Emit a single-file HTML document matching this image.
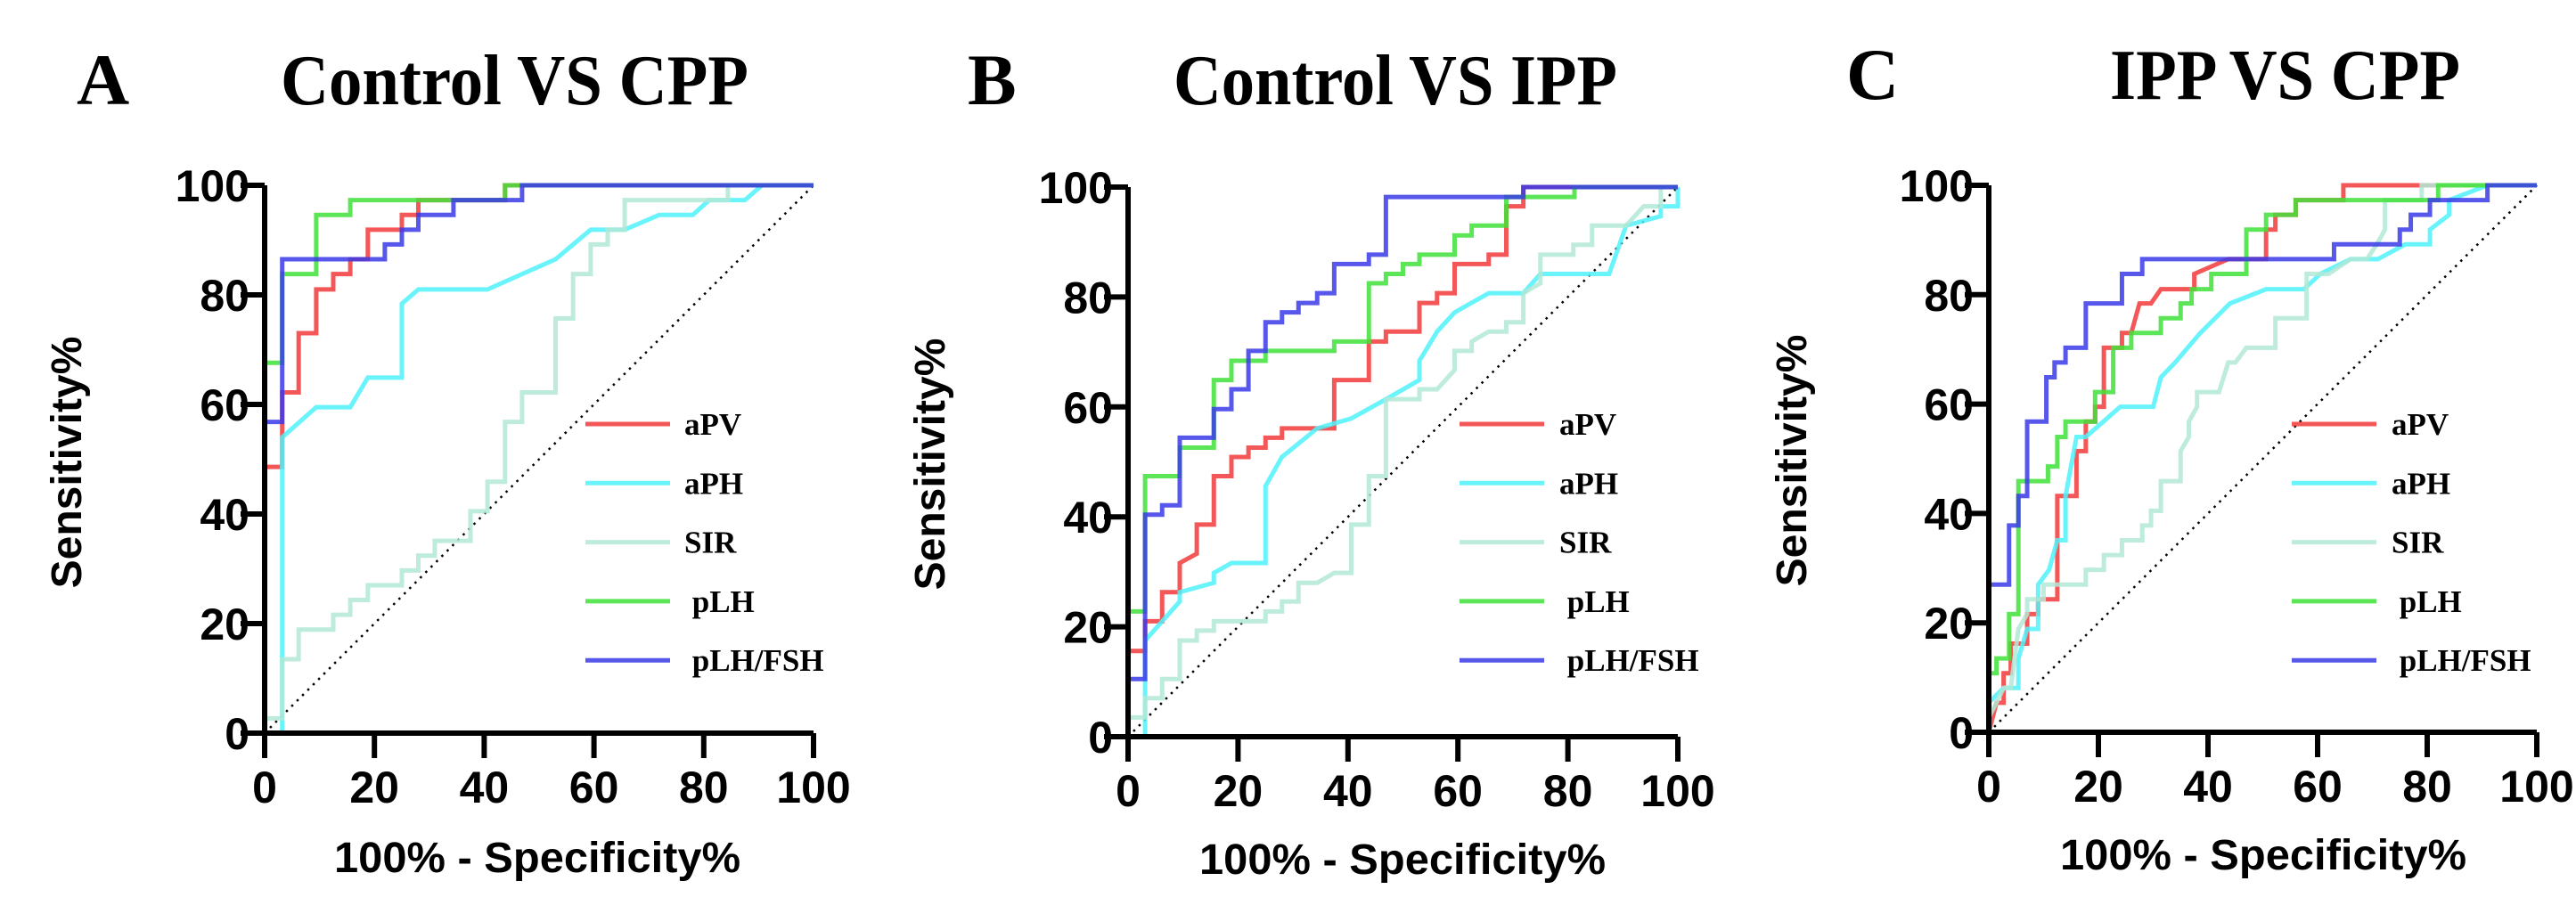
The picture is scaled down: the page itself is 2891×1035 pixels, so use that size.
<!DOCTYPE html>
<html><head><meta charset="utf-8"><style>
html,body{margin:0;padding:0;background:#fff;}
svg{display:block;}
</style></head><body>
<svg id="fig" xmlns="http://www.w3.org/2000/svg" width="2891" height="1035" viewBox="0 0 2891 1035"></svg>
<script>
const xTicks=[0,20,40,60,80,100];
const yTicks=[0,20,40,60,80,100];
const seriesNames=["aPV","aPH","SIR","pLH","pLH/FSH"];
const legendLabels=["aPV","aPH","SIR"," pLH"," pLH/FSH"];
const panelLetters=["A","B","C"];
const panelTitles=["Control VS CPP","Control VS IPP","IPP VS CPP"];

const A_aPV=[[0,0],[0,48.6],[3.2,48.6],[3.2,62.2],[6.2,62.2],[6.2,73],[9.4,73],[9.4,81],[12.5,81],[12.5,83.8],[15.6,83.8],[15.6,86.5],[18.8,86.5],[18.8,91.9],[25,91.9],[25,94.6],[28,94.6],[28,97.3],[43.8,97.3],[43.8,100],[100,100]];
const A_aPH=[[0,0],[3.2,0],[3.2,54],[9.4,59.5],[15.6,59.5],[18.8,64.9],[25,64.9],[25,78.4],[28,81],[40.6,81],[53,86.5],[59.4,91.9],[65.6,91.9],[71.9,94.6],[78,94.6],[81,97.3],[87.5,97.3],[90.6,100],[100,100]];
const A_SIR=[[0,0],[0,2.7],[3.2,2.7],[3.2,13.5],[6.2,13.5],[6.2,18.9],[12.5,18.9],[12.5,21.6],[15.6,21.6],[15.6,24.3],[18.8,24.3],[18.8,27],[25,27],[25,29.7],[28,29.7],[28,32.4],[31,32.4],[31,35.1],[37.5,35.1],[37.5,40.5],[40.6,40.5],[40.6,45.9],[43.8,45.9],[43.8,56.8],[46.9,56.8],[46.9,62.2],[53,62.2],[53,75.7],[56.2,75.7],[56.2,83.8],[59.4,83.8],[59.4,89.2],[62.5,89.2],[62.5,91.9],[65.6,91.9],[65.6,97.3],[84.4,97.3],[84.4,100],[100,100]];
const A_pLH=[[0,0],[0,67.6],[3.2,67.6],[3.2,83.8],[9.4,83.8],[9.4,94.6],[15.6,94.6],[15.6,97.3],[43.8,97.3],[43.8,100],[100,100]];
const A_pLHFSH=[[0,0],[0,56.8],[3.2,56.8],[3.2,86.5],[21.9,86.5],[21.9,89.2],[25,89.2],[25,91.9],[28,91.9],[28,94.6],[34.4,94.6],[34.4,97.3],[46.9,97.3],[46.9,100],[100,100]];

const B_aPV=[[0,0],[0,15.6],[3.1,15.6],[3.1,21],[6.2,21],[6.2,26.3],[9.4,26.3],[9.4,31.6],[12.5,33.3],[12.5,38.6],[15.6,38.6],[15.6,47.4],[18.8,47.4],[18.8,50.9],[21.9,50.9],[21.9,52.6],[25,52.6],[25,54.4],[28,54.4],[28,56.1],[37.5,56.1],[37.5,64.9],[43.8,64.9],[43.8,71.9],[46.9,71.9],[46.9,73.7],[53,73.7],[53,78.9],[56.2,78.9],[56.2,80.7],[59.4,80.7],[59.4,86],[65.6,86],[65.6,87.7],[68.8,87.7],[68.8,96.5],[71.9,96.5],[71.9,100],[100,100]];
const B_aPH=[[0,0],[3.1,0],[3.1,17.5],[9.4,24.6],[9.4,26.3],[15.6,28],[15.6,29.8],[18.8,31.6],[25,31.6],[25,45.6],[28,50.9],[34.4,56.1],[40.6,57.9],[46.9,61.4],[53,64.9],[53,68.4],[56.2,73.7],[59.4,77.2],[65.6,80.7],[71.9,80.7],[75,84.2],[87.5,84.2],[90.6,93],[96.9,94.7],[96.9,96.5],[100,96.5],[100,100]];
const B_SIR=[[0,0],[0,3.5],[3.1,3.5],[3.1,7],[6.2,7],[6.2,10.5],[9.4,10.5],[9.4,17.5],[12.5,17.5],[12.5,19.3],[15.6,19.3],[15.6,21],[25,21],[25,22.8],[28,22.8],[28,24.6],[31,24.6],[31,28],[34.4,28],[37.5,29.8],[40.6,29.8],[40.6,38.6],[43.8,38.6],[43.8,47.4],[46.9,47.4],[46.9,61.4],[53,61.4],[53,63.2],[56.2,63.2],[59.4,66.7],[59.4,70.2],[62.5,70.2],[62.5,71.9],[65.6,73.7],[68.8,73.7],[68.8,75.4],[71.9,75.4],[71.9,80.7],[75,82.5],[75,87.7],[81,87.7],[81,89.5],[84.4,89.5],[84.4,93],[90.6,93],[93.8,96.5],[96.9,96.5],[96.9,100],[100,100]];
const B_pLH=[[0,0],[0,22.8],[3.1,22.8],[3.1,47.4],[9.4,47.4],[9.4,52.6],[15.6,52.6],[15.6,64.9],[18.8,64.9],[18.8,68.4],[25,68.4],[25,70.2],[37.5,70.2],[37.5,71.9],[43.8,71.9],[43.8,82.5],[46.9,82.5],[46.9,84.2],[50,84.2],[50,86],[53,86],[53,87.7],[59.4,87.7],[59.4,91.2],[62.5,91.2],[62.5,93],[68.8,93],[68.8,98.2],[81.2,98.2],[81.2,100],[100,100]];
const B_pLHFSH=[[0,0],[0,10.5],[3.1,10.5],[3.1,40.4],[6.2,40.4],[6.2,42.1],[9.4,42.1],[9.4,54.4],[15.6,54.4],[15.6,59.6],[18.8,59.6],[18.8,63.2],[21.9,63.2],[21.9,70.2],[25,70.2],[25,75.4],[28,75.4],[28,77.2],[31,77.2],[31,78.9],[34.4,78.9],[34.4,80.7],[37.5,80.7],[37.5,86],[43.8,86],[43.8,87.7],[46.9,87.7],[46.9,98.2],[71.9,98.2],[71.9,100],[100,100]];

const C_aPV=[[0,0],[1.4,5.4],[2.7,5.4],[2.7,10.8],[4,10.8],[4,16.2],[7,16.2],[7,21.6],[9,21.6],[9,24.3],[12.5,24.3],[12.5,43.2],[16,43.2],[16,51.4],[17.7,51.4],[17.7,56.8],[19.4,56.8],[19.4,59.5],[21,59.5],[21,70.3],[24.3,70.3],[24.3,73],[26,73],[27.5,78.4],[29.6,78.4],[31.4,81],[37.5,81],[37.5,83.8],[43.7,86.5],[50.6,86.5],[50.6,91.9],[52.3,91.9],[52.3,94.6],[56,94.6],[56,97.3],[64.7,97.3],[64.7,100],[100,100]];
const C_aPH=[[0,0],[0,5.4],[2.7,8.1],[5.4,8.1],[5.4,13.5],[7,18.9],[9,18.9],[9,27],[11,29.7],[12.5,35.1],[14,35.1],[14,43.2],[16,54],[17.7,54],[24,59.5],[30,59.5],[31.4,64.9],[34,67.6],[38.5,72.9],[44,78.4],[50.6,81],[57.5,81],[60.5,83.8],[66,86.5],[71,86.5],[76,89.2],[80.5,89.2],[80.5,91.9],[84,94.6],[84,97.3],[91,100],[100,100]];
const C_SIR=[[0,0],[0,2.7],[1.4,5.4],[2.7,8.1],[4,8.1],[5.4,18.9],[7,21.6],[7,24.3],[10,24.3],[10,27],[17.7,27],[17.7,29.7],[21,29.7],[21,32.4],[24.3,32.4],[24.3,35.1],[28,35.1],[28,37.8],[29.6,37.8],[29.6,40.5],[31.4,40.5],[31.4,45.9],[35,45.9],[35,51.4],[36.5,54],[36.5,56.8],[38,59.5],[38,62.2],[42,62.2],[43.7,67.6],[45,67.6],[47,70.3],[52.3,70.3],[52.3,75.7],[58,75.7],[58,83.8],[62,83.8],[66,86.5],[69,86.5],[70.8,89.2],[72.3,91.9],[72.3,97.3],[79,97.3],[79,100],[100,100]];
const C_pLH=[[0,0],[0,10.8],[1.4,10.8],[1.4,13.5],[3.7,13.5],[3.7,21.6],[5.4,21.6],[5.4,45.9],[10.8,45.9],[10.8,48.6],[12.5,48.6],[12.5,54],[14,54],[14,56.8],[19.4,56.8],[19.4,62.2],[22.7,62.2],[22.7,70.3],[26,70.3],[26,73],[31.4,73],[31.4,75.7],[35,75.7],[35,78.4],[37,78.4],[37,81],[40.6,81],[40.6,83.8],[47,83.8],[47,91.9],[50.6,91.9],[50.6,94.6],[56,94.6],[56,97.3],[82,97.3],[82,100],[100,100]];
const C_pLHFSH=[[0,0],[0,27],[3.7,27],[3.7,37.8],[5.4,37.8],[5.4,43.2],[7,43.2],[7,56.8],[10.5,56.8],[10.5,64.9],[12,64.9],[12,67.6],[14,67.6],[14,70.3],[17.7,70.3],[17.7,78.4],[24.3,78.4],[24.3,83.8],[28,83.8],[28,86.5],[63,86.5],[63,89.2],[75,89.2],[75,91.9],[77,91.9],[77,94.6],[80.5,94.6],[80.5,97.3],[91,97.3],[91,100],[100,100]];

const panelData=[[A_aPV,A_aPH,A_SIR,A_pLH,A_pLHFSH],[B_aPV,B_aPH,B_SIR,B_pLH,B_pLHFSH],[C_aPV,C_aPH,C_SIR,C_pLH,C_pLHFSH]];

const colors=["#f23a3a","#4ff2fa","#b2e8d6","#3fe23a","#3a3ae8"];
const layouts=[
 {x0:297,x1:913,y0:823,y1:208,letterX:86,titleX:315,titleW:525,titleY:117,legX:657,legTx:768,legY:476,ytx:74,yty:519,xtx:603,xty:979},
 {x0:1266,x1:1883,y0:827,y1:210,letterX:1086,titleX:1317,titleW:498,titleY:117,legX:1638,legTx:1750,legY:476,ytx:1043,yty:521,xtx:1574,xty:981},
 {x0:2232,x1:2847,y0:822,y1:208,letterX:2072,titleX:2368,titleW:393,titleY:111,legX:2572,legTx:2684,legY:476,ytx:2010,yty:517,xtx:2540,xty:976}
];
const NS="http://www.w3.org/2000/svg";
const svg=document.getElementById('fig');
function mk(tag,attrs,parent){const e=document.createElementNS(NS,tag);for(const k in attrs)e.setAttribute(k,attrs[k]);(parent||svg).appendChild(e);return e;}

layouts.forEach((L,p)=>{
 const g=mk('g',{});
 
 
 const sx=v=>L.x0+(L.x1-L.x0)*v/100;
 const sy=v=>L.y0+(L.y1-L.y0)*v/100;
 let t=mk('text',{x:L.letterX,y:L.titleY,'font-family':'Liberation Serif, serif','font-weight':'bold','font-size':82},g);
 t.textContent=panelLetters[p];
 
 
 t=mk('text',{x:L.titleX,y:L.titleY,'font-family':'Liberation Serif, serif','font-weight':'bold','font-size':80,textLength:L.titleW,lengthAdjust:'spacingAndGlyphs'},g);
 t.textContent=panelTitles[p];
 
 
 const d=mk('line',{x1:sx(0),y1:sy(0),x2:sx(100),y2:sy(100),stroke:'#000','stroke-width':2.5,'stroke-dasharray':'2.5,6'},g);
 
 
 panelData[p].forEach((pts,i)=>{
  const pl=mk('polyline',{points:pts.map(q=>sx(q[0])+','+sy(q[1])).join(' '),fill:'none',stroke:colors[i],'stroke-width':5,'stroke-opacity':0.85,'stroke-linejoin':'miter'},g);
  
  
 });
 const ax=mk('path',{d:`M${sx(0)},${sy(100)} V${sy(0)} H${sx(100)}`,fill:'none',stroke:'#000','stroke-width':6},g);
 
 
 yTicks.forEach(v=>{
  const tk=mk('line',{x1:sx(0)-27,x2:sx(0),y1:sy(v),y2:sy(v),stroke:'#000','stroke-width':6},g);
  
  
  const tl=mk('text',{x:sx(0)-17,y:sy(v)+18,'text-anchor':'end','font-family':'Liberation Sans, sans-serif','font-weight':'bold','font-size':50},g);
  tl.textContent=v;
  
  
 });
 xTicks.forEach(v=>{
  const tk=mk('line',{x1:sx(v),x2:sx(v),y1:sy(0),y2:sy(0)+28,stroke:'#000','stroke-width':6},g);
  
  
  const tl=mk('text',{x:sx(v),y:sy(0)+78,'text-anchor':'middle','font-family':'Liberation Sans, sans-serif','font-weight':'bold','font-size':50},g);
  tl.textContent=v;
  
  
 });
 t=mk('text',{x:L.xtx,y:L.xty,'text-anchor':'middle','font-family':'Liberation Sans, sans-serif','font-weight':'bold','font-size':48,textLength:456,lengthAdjust:'spacingAndGlyphs'},g);
 t.textContent='100% - Specificity%';
 
 
 t=mk('text',{x:0,y:0,'text-anchor':'middle','font-family':'Liberation Sans, sans-serif','font-weight':'bold','font-size':48,transform:`translate(${L.ytx+17},${L.yty}) rotate(-90)`},g);
 t.textContent='Sensitivity%';
 
 
 legendLabels.forEach((lab,i)=>{
  const ly=L.legY+i*66.3;
  const ll=mk('line',{x1:L.legX,x2:L.legX+95,y1:ly,y2:ly,stroke:colors[i],'stroke-width':5,'stroke-opacity':0.85},g);
  
  
  const lt=mk('text',{x:L.legTx,y:ly+12,'font-family':'Liberation Serif, serif','font-weight':'bold','font-size':35},g);
  lt.setAttribute('style','white-space:pre');
  lt.textContent=lab;
  
  
 });
});
</script>
</body></html>
